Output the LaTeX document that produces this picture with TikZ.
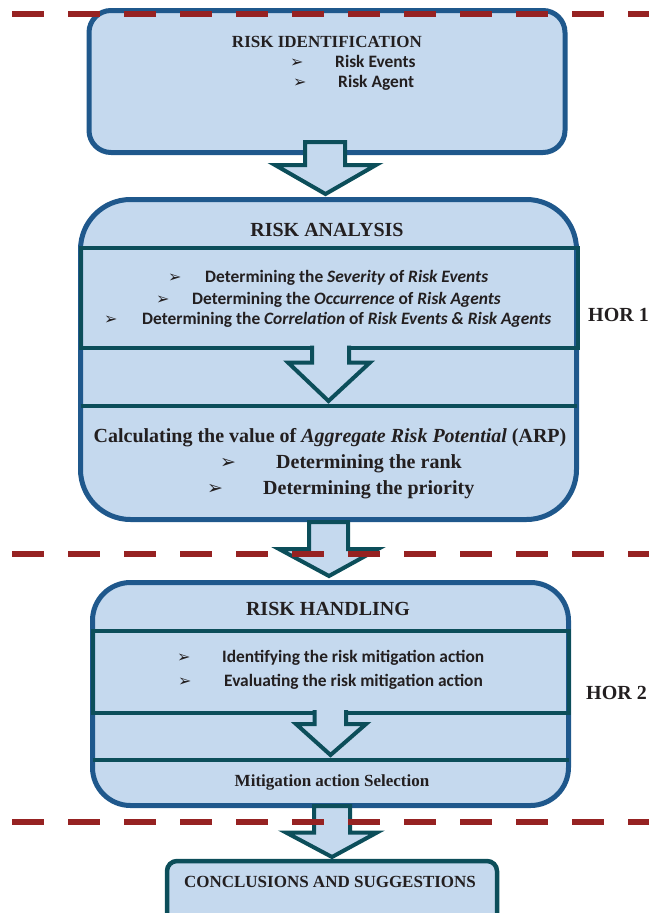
\documentclass[tikz,border=0pt]{standalone}
\usepackage{fontspec}
\setmainfont{Liberation Serif}
\newfontfamily\calfont{Carlito}
\newfontfamily\symfont{DejaVu Sans}
\definecolor{fillblue}{RGB}{197,217,238}
\definecolor{boxblue}{RGB}{31,88,140}
\definecolor{teal2}{RGB}{12,78,90}
\definecolor{dashred}{RGB}{150,34,34}
\definecolor{ink}{RGB}{35,31,32}
\tikzset{
  bigbox/.style={draw=boxblue, line width=5pt, fill=fillblue},
  tealbox/.style={draw=teal2, line width=4pt},
  blockarrow/.style={draw=teal2, line width=4pt, fill=fillblue, line join=miter},
  redline/.style={draw=dashred, line width=6pt, dash pattern=on 32pt off 24pt, dash phase=44pt},
  ttitle/.style={font=\bfseries\fontsize{20}{24}\selectfont, text=ink, inner sep=0pt, anchor=base},
  cbody/.style={font=\calfont\bfseries\fontsize{17.4}{20}\selectfont, text=ink, inner sep=0pt, anchor=base west},
  tbody/.style={font=\bfseries\fontsize{20}{24}\selectfont, text=ink, inner sep=0pt, anchor=base west},
  bul/.style={font=\symfont\fontsize{16}{18}\selectfont, text=ink, inner sep=0pt, anchor=base west},
  tbul/.style={font=\symfont\fontsize{19}{21}\selectfont, text=ink, inner sep=0pt, anchor=base west},
}
\begin{document}
\begin{tikzpicture}[x=1pt,y=-1pt]
\useasboundingbox (0,0) rectangle (649,913);
\clip (0,0) rectangle (649,913);
% boxes
\node[bigbox, rounded corners=22pt, minimum width=476pt, minimum height=142pt, inner sep=0pt] (b1) at (327,81.5) {};
\node[bigbox, rounded corners=50pt, minimum width=496pt, minimum height=320pt, inner sep=0pt] (b2) at (328.5,359.5) {};
\node[bigbox, rounded corners=38pt, minimum width=476pt, minimum height=223pt, inner sep=0pt] (b3) at (330.5,694) {};
\node[draw=teal2, line width=4.5pt, fill=fillblue, rounded corners=10pt, minimum width=330pt, minimum height=80pt, inner sep=0pt] (b4) at (332,901) {};
% inner teal sections
\node[tealbox, minimum width=497.5pt, minimum height=99.5pt, inner sep=0pt] (s1) at (329.25,297.75) {};
\draw[teal2, line width=4pt] (80.5,405.5) coordinate (l1a) -- (576.5,405.5) coordinate (l1b);
\node[tealbox, minimum width=476pt, minimum height=82pt, inner sep=0pt] (s2) at (330.5,671.5) {};
\draw[teal2, line width=4pt] (92.5,759.5) coordinate (l2a) -- (568.5,759.5) coordinate (l2b);
% texts box 1
\node[ttitle, font=\bfseries\fontsize{17}{20}\selectfont] (t1) at (327,47) {RISK IDENTIFICATION};
\node[bul] (t1b1) at (290,67) {➢};
\node[cbody] (t1i1) at (335,67) {Risk Events};
\node[bul] (t1b2) at (293,87) {➢};
\node[cbody] (t1i2) at (338,87) {Risk Agent};
% texts box 2
\node[ttitle] (t2) at (327,236) {RISK ANALYSIS};
\node[bul] (t2b1) at (168,282) {➢};
\node[cbody] (t2i1) at (205,282) {Determining the \textit{Severity} of \textit{Risk Events}};
\node[bul] (t2b2) at (156,304) {➢};
\node[cbody] (t2i2) at (192,304) {Determining the \textit{Occurrence} of \textit{Risk Agents}};
\node[bul] (t2b3) at (104,324) {➢};
\node[cbody] (t2i3) at (142,324) {Determining the \textit{Correlation} of \textit{Risk Events \& Risk Agents}};
\node[ttitle] (t2c) at (330,442) {Calculating the value of \textit{Aggregate Risk Potential} (ARP)};
\node[tbul] (t2b4) at (220,468) {➢};
\node[tbody] (t2i4) at (276,468) {Determining the rank};
\node[tbul] (t2b5) at (207,494) {➢};
\node[tbody] (t2i5) at (263,494) {Determining the priority};
% texts box 3
\node[ttitle] (t3) at (328,615) {RISK HANDLING};
\node[bul] (t3b1) at (177,662) {➢};
\node[cbody] (t3i1) at (222,662) {Identifying the risk mitigation action};
\node[bul] (t3b2) at (178,686) {➢};
\node[cbody] (t3i2) at (224,686) {Evaluating the risk mitigation action};
\node[ttitle, font=\bfseries\fontsize{17}{20}\selectfont] (t3s) at (332,786) {Mitigation action Selection};
% box 4
\node[ttitle, font=\bfseries\fontsize{17}{20}\selectfont] (t4) at (330,887) {CONCLUSIONS AND SUGGESTIONS};
% HOR labels
\node[ttitle, anchor=base west] (h1) at (588,321) {HOR 1};
\node[ttitle, anchor=base west] (h2) at (586,699) {HOR 2};
% connecting block arrows
\draw[blockarrow] (305,142) -- (305,165) -- (275,165) -- (325.5,194) -- (376,165) -- (345,165) -- (345,142) -- cycle;
\draw[blockarrow] (309,522) -- (309,549) -- (279,549) -- (329,576) -- (378,549) -- (348,549) -- (348,522) -- cycle;
\draw[blockarrow] (314,806) -- (314,832.5) -- (286,832.5) -- (332,857) -- (377,832.5) -- (350,832.5) -- (350,806) -- cycle;
% inner block arrows
\fill[fillblue] (312,343) -- (312,362.5) -- (288,362.5) -- (328.5,401) -- (370,362.5) -- (349,362.5) -- (349,343) -- cycle;
\draw[teal2, line width=4pt, line join=miter] (312,345.5) -- (312,362.5) -- (288,362.5) -- (328.5,401) -- (370,362.5) -- (349,362.5) -- (349,345.5);
\fill[fillblue] (314.5,708) -- (314.5,724) -- (296,724) -- (330.5,755) -- (366,724) -- (346,724) -- (346,708) -- cycle;
\draw[teal2, line width=4pt, line join=miter] (314.5,710) -- (314.5,724) -- (296,724) -- (330.5,755) -- (366,724) -- (346,724) -- (346,710);
% red dashed lines
\draw[redline] (0,13.5) coordinate (r1a) -- (649,13.5) coordinate (r1b);
\draw[redline] (0,554) coordinate (r2a) -- (649,554) coordinate (r2b);
\draw[redline] (0,822) coordinate (r3a) -- (649,822) coordinate (r3b);
\end{tikzpicture}
\end{document}
